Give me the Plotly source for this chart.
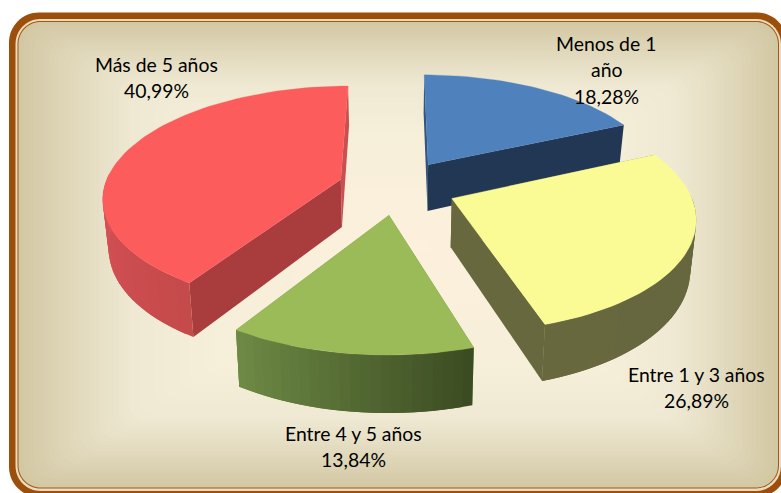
import math
import plotly.graph_objects as go

# ---- chart data ----
categories = ["Menos de 1 año", "Entre 1 y 3 años", "Entre 4 y 5 años", "Más de 5 años"]
values = [18.28, 26.89, 13.84, 40.99]
label_lines = [["Menos de 1", "año"], ["Entre 1 y 3 años"], ["Entre 4 y 5 años"], ["Más de 5 años"]]

# ---- styles ----
top_colors = ["#4f81bd", "#fbfb96", "#9bbb59", "#fd5c5c"]
cut_colors = ["#213754", "#68683e", "#6f8c46", "#a93c3c"]
back_colors = ["#34547f", "#68683e", "#3c4c22", "#c94f50"]
wall_start = ["#213754", "#66663f", "#3c4c22", "#c54a4a"]   # wall colour at the slice's first angle
wall_end = ["#213754", "#68683f", "#6f8c46", "#d9525a"]     # wall colour at the slice's last visible angle
draw_order = [0, 3, 2, 1]
label_pos = [(606, 43), (696, 374), (353, 433), (156, 64)]
LINE_GAP = 26.5

CX, CY = 397, 187
F, G, P = 236.5, 109.5, 0.15
EXPLODE = 0.25
SHRINK = 0.98


def hex2rgb(h):
    return [int(h[i:i + 2], 16) for i in (1, 3, 5)]


def mix(a, b, t):
    ra, rb = hex2rgb(a), hex2rgb(b)
    return "rgb(%d,%d,%d)" % tuple(round(x + (y - x) * t) for x, y in zip(ra, rb))


def project(X, Y):
    w = 1 - P * Y
    return CX + F * X / w, CY + G * Y / w


def bottom(X, Y):
    x, y = project(X, Y)
    return CX + (x - CX) * SHRINK, y + 48 + 8 * Y


fig = go.Figure()


def poly(pts, color, width=0.0):
    xs = [p[0] for p in pts] + [pts[0][0]]
    ys = [p[1] for p in pts] + [pts[0][1]]
    fig.add_trace(go.Scatter(x=xs, y=ys, mode="lines", fill="toself", fillcolor=color,
                             line=dict(color=color, width=width), hoverinfo="skip", showlegend=False))


def wall(a, b, color):
    poly([project(*a), project(*b), bottom(*b), bottom(*a)], color)


total = sum(values)
angles = [0]
for v in values:
    angles.append(angles[-1] + v / total * 2 * math.pi)

for i in draw_order:
    a0, a1 = angles[i], angles[i + 1]
    mid = (a0 + a1) / 2
    ox, oy = EXPLODE * math.sin(mid), -EXPLODE * math.cos(mid)
    n = max(6, int((a1 - a0) / math.radians(2.0)))
    thetas = [a0 + (a1 - a0) * k / n for k in range(n + 1)]
    ground = [(ox + math.sin(t), oy - math.cos(t)) for t in thetas]
    apex = (ox, oy)
    # radial cut faces
    wall(apex, ground[0], back_colors[i] if i == 0 else cut_colors[i])
    wall(apex, ground[-1], cut_colors[i] if i != 3 else back_colors[i])
    # outer curved wall: only the part that faces the viewer
    visible = [k for k in range(n + 1) if -math.cos(thetas[k]) > -0.06]
    if visible:
        first, last = visible[0], visible[-1]
        span = max(1, last - first)
        for k in range(first, last):
            color = mix(wall_start[i], wall_end[i], (k - first) / span)
            # each piece reaches into the next one so no seams show
            wall(ground[k], ground[min(k + 2, last)], color)
    # top face
    poly([project(*apex)] + [project(*g) for g in ground], top_colors[i], 0.3)


# ---- frame and background ----
def rounded(x0, y0, x1, y1, r):
    c = r * 0.4477
    return (f"M{x0+r},{y0} L{x1-r},{y0} C{x1-c},{y0} {x1},{y0+c} {x1},{y0+r} L{x1},{y1-r} "
            f"C{x1},{y1-c} {x1-c},{y1} {x1-r},{y1} L{x0+r},{y1} C{x0+c},{y1} {x0},{y1-c} {x0},{y1-r} "
            f"L{x0},{y0+r} C{x0},{y0+c} {x0+c},{y0} {x0+r},{y0} Z")


shapes = []


def add_shape(path, color):
    shapes.append(dict(type="path", path=path, fillcolor=color, line=dict(width=0),
                       xref="x", yref="y", layer="below"))


add_shape(rounded(9, 12.5, 787, 497, 30), "#9c4f0a")
add_shape(rounded(15.5, 19, 781, 491, 25), "#e9dcc0")
add_shape(rounded(17.5, 21, 779, 488.5, 23), "#a4560f")
stops = [(0, "#fdf0dc"), (0.5, "#f6efda"), (0.72, "#efe9d3"), (0.85, "#e3dbbf"), (1, "#d3c8a4")]
L, R, T, B = 18.5, 778, 22, 487.5
GX, GY = 420, 245
STEPS = 80
for s in range(STEPS, 0, -1):
    t = s / STEPS
    for (t0, c0), (t1, c1) in zip(stops, stops[1:]):
        if t0 <= t <= t1:
            col = mix(c0, c1, (t - t0) / (t1 - t0))
            break
    add_shape(rounded(GX + (L - GX) * t, GY + (T - GY) * t, GX + (R - GX) * t, GY + (B - GY) * t, 22 * t), col)

# ---- labels ----
annotations = []
for lines, v, (x, y) in zip(label_lines, values, label_pos):
    for j, txt in enumerate(lines + [f"{v:.2f}".replace(".", ",") + "%"]):
        annotations.append(dict(x=x, y=y + j * LINE_GAP, text=txt, showarrow=False, xref="x", yref="y",
                                font=dict(family="Lato, Carlito, sans-serif", size=19.4, color="#000000")))

fig.update_layout(
    width=781, height=493, margin=dict(l=0, r=0, t=0, b=0), showlegend=False,
    paper_bgcolor="#ffffff", plot_bgcolor="rgba(0,0,0,0)",
    xaxis=dict(range=[0, 781], visible=False, fixedrange=True),
    yaxis=dict(range=[493, 0], visible=False, fixedrange=True),
    shapes=shapes, annotations=annotations,
)
fig.write_html("out.html", config={"displayModeBar": False},
               post_script="document.body.style.margin='0';document.body.style.overflow='hidden';")
